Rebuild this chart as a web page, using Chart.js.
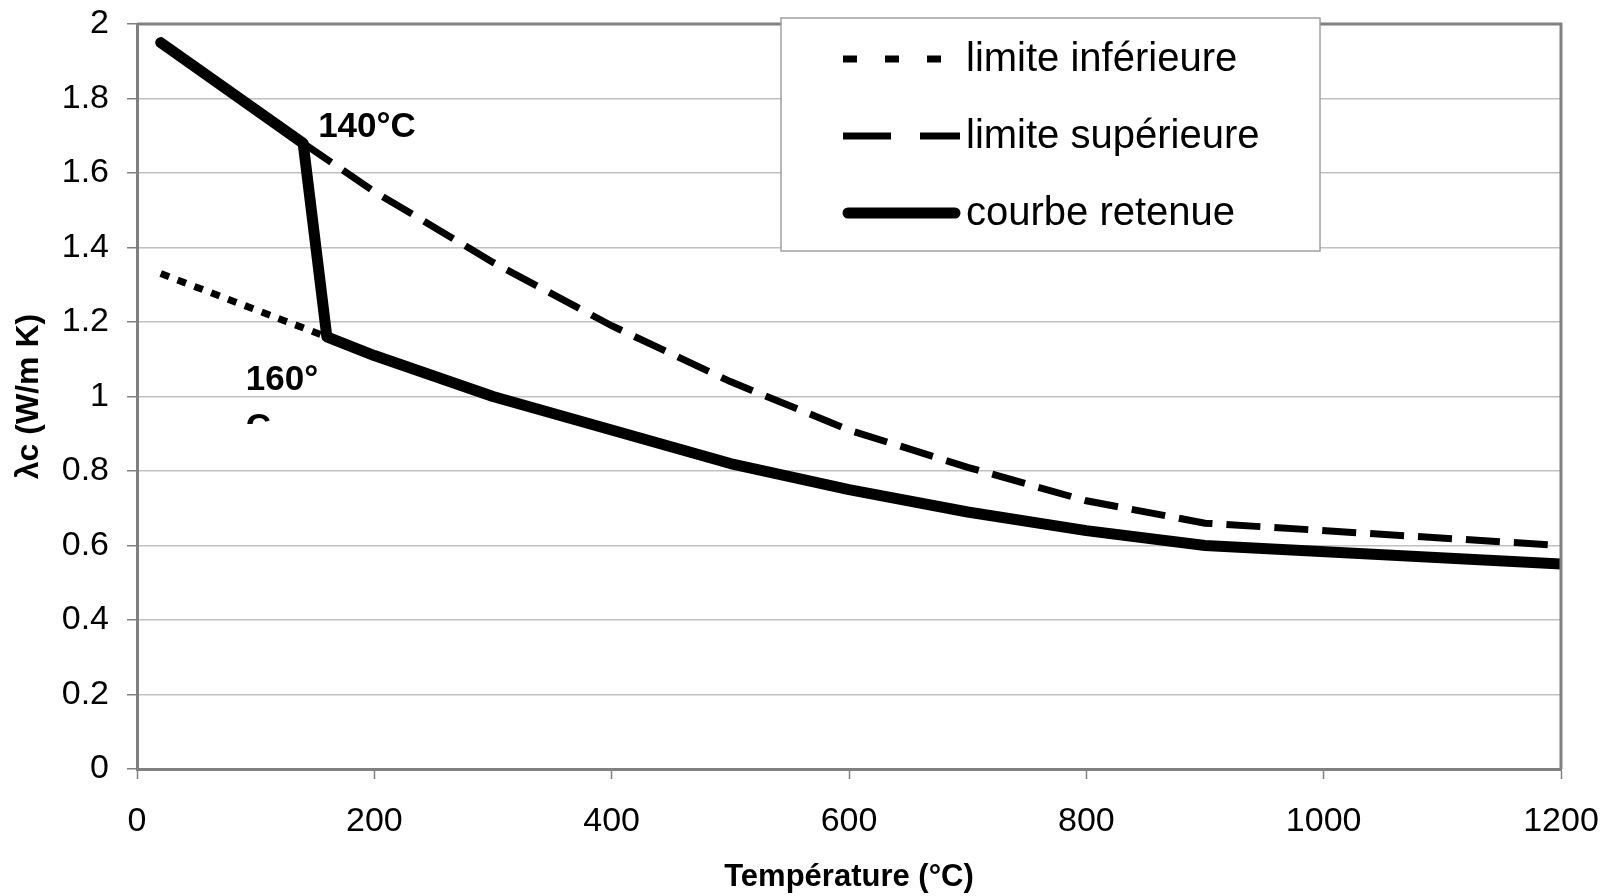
<!DOCTYPE html>
<html>
<head>
<meta charset="utf-8">
<script src="https://cdn.jsdelivr.net/npm/chart.js@4.4.0/dist/chart.umd.min.js"></script>
<style>
  html, body { margin: 0; padding: 0; background: #ffffff; }
  #wrap { width: 1616px; height: 896px; }
</style>
</head>
<body>
<div id="wrap"><canvas id="chartLambda" width="1616" height="896"></canvas></div>
<script>
// données
const tempInf = [20, 160, 200, 300, 400, 500, 600, 700, 800, 900, 1200];
const lambdaInf = [1.33, 1.16, 1.11, 1.00, 0.91, 0.82, 0.75, 0.69, 0.64, 0.60, 0.55];

const tempSup = [140, 200, 300, 400, 500, 600, 700, 800, 900, 1200];
const lambdaSup = [1.68, 1.55, 1.36, 1.19, 1.04, 0.91, 0.81, 0.72, 0.66, 0.60];

const tempRetenue = [20, 140, 160, 200, 300, 400, 500, 600, 700, 800, 900, 1200];
const lambdaRetenue = [1.95, 1.68, 1.16, 1.11, 1.00, 0.91, 0.82, 0.75, 0.69, 0.64, 0.60, 0.55];

const seriesNames = ['limite inférieure', 'limite supérieure', 'courbe retenue'];
const xTickLabels = ['0', '200', '400', '600', '800', '1000', '1200'];
const yTickLabels = ['0', '0.2', '0.4', '0.6', '0.8', '1', '1.2', '1.4', '1.6', '1.8', '2'];

// étiquettes des points de changement
const noteTemps = [140, 160];
const noteLambdas = [1.68, 1.16];

const FONT = '"Liberation Sans", Arial, sans-serif';

function toPoints(xs, ys) {
    return xs.map((x, i) => ({ x: x, y: ys[i] }));
}

// cadre du graphique (haut + droite)
const plotFrame = {
    id: 'plotFrame',
    afterDraw(chart) {
        const { ctx, chartArea: a } = chart;
        ctx.save();
        ctx.strokeStyle = '#808080';
        ctx.lineWidth = 3;
        ctx.beginPath();
        ctx.moveTo(a.left, a.top);
        ctx.lineTo(a.right, a.top);
        ctx.lineTo(a.right, a.bottom);
        ctx.stroke();
        ctx.restore();
    }
};

// annotations 140°C / 160°C
const notes = {
    id: 'notes',
    afterDatasetsDraw(chart) {
        const { ctx, scales } = chart;
        const x1 = scales.x.getPixelForValue(noteTemps[0]);
        const y1 = scales.y.getPixelForValue(noteLambdas[0]);
        const x2 = scales.x.getPixelForValue(noteTemps[1]);
        const y2 = scales.y.getPixelForValue(noteLambdas[1]);
        ctx.save();
        ctx.fillStyle = '#000';
        ctx.font = 'bold 35px ' + FONT;
        ctx.textAlign = 'left';
        ctx.textBaseline = 'alphabetic';
        ctx.fillText('140°C', x1 + 15, y1 - 6);
        ctx.fillText('160°', x2 - 81, y2 + 53);
        // le "C" coupé sous 160°
        ctx.beginPath();
        ctx.rect(x2 - 90, y2 + 60, 60, 27);
        ctx.clip();
        ctx.fillText('C', x2 - 81, y2 + 101);
        ctx.restore();
    }
};

// légende encadrée dans la zone de tracé
const boxLegend = {
    id: 'boxLegend',
    afterDraw(chart) {
        const { ctx } = chart;
        const bx = 781, by = 18, bw = 539, bh = 233;
        ctx.save();
        ctx.fillStyle = '#ffffff';
        ctx.fillRect(bx, by, bw, bh);
        ctx.strokeStyle = '#a0a0a0';
        ctx.lineWidth = 1.5;
        ctx.strokeRect(bx, by, bw, bh);

        const rows = [59, 136, 213];
        const samples = [
            { dash: [14, 28], width: 7, cap: 'butt' },
            { dash: [48, 29], width: 7, cap: 'butt' },
            { dash: [], width: 11, cap: 'round' }
        ];
        rows.forEach((y, i) => {
            const s = samples[i];
            ctx.strokeStyle = '#000';
            ctx.lineWidth = s.width;
            ctx.lineCap = s.cap;
            ctx.setLineDash(s.dash);
            ctx.beginPath();
            ctx.moveTo(i === 2 ? 848 : 843, y);
            ctx.lineTo(i === 2 ? 955 : 960, y);
            ctx.stroke();
            ctx.setLineDash([]);
            ctx.fillStyle = '#000';
            ctx.font = '40px ' + FONT;
            ctx.textBaseline = 'middle';
            ctx.textAlign = 'left';
            ctx.fillText(seriesNames[i], 966, y + 1);
        });
        ctx.restore();
    }
};

new Chart(document.getElementById('chartLambda'), {
    type: 'line',
    data: {
        datasets: [
            {
                label: seriesNames[2],
                data: toPoints(tempRetenue, lambdaRetenue),
                borderColor: '#000',
                borderWidth: 11,
                borderJoinStyle: 'round',
                borderCapStyle: 'round',
                pointRadius: 0,
                fill: false,
                order: 0
            },
            {
                label: seriesNames[1],
                data: toPoints(tempSup, lambdaSup),
                borderColor: '#000',
                borderWidth: 7,
                borderDash: [34, 14],
                pointRadius: 0,
                fill: false,
                order: 1
            },
            {
                label: seriesNames[0],
                data: toPoints(tempInf, lambdaInf),
                borderColor: '#000',
                borderWidth: 7,
                borderDash: [9, 9],
                pointRadius: 0,
                fill: false,
                order: 2
            }
        ]
    },
    options: {
        responsive: false,
        animation: false,
        devicePixelRatio: 1,
        layout: { padding: { top: 24, right: 55, left: 0, bottom: 0 } },
        plugins: {
            legend: { display: false },
            tooltip: { enabled: false }
        },
        scales: {
            x: {
                type: 'linear',
                min: 0,
                max: 1200,
                afterFit: (s) => {
                    s.height = 127;
                    s.paddingLeft = 0;
                    s.paddingRight = 0;
                },
                afterBuildTicks: (s) => {
                    s.ticks = xTickLabels.map(t => ({ value: Number(t) }));
                },
                ticks: {
                    color: '#000',
                    font: { family: FONT, size: 34 },
                    padding: 22,
                    maxRotation: 0,
                    autoSkip: false,
                    callback: (v, i) => xTickLabels[i]
                },
                grid: {
                    drawOnChartArea: false,
                    drawTicks: true,
                    tickLength: 10,
                    tickColor: '#808080',
                    tickWidth: 1.5
                },
                border: { color: '#808080', width: 3 },
                title: {
                    display: true,
                    text: 'Température (°C)',
                    color: '#000',
                    font: { family: FONT, size: 31, weight: 'bold' },
                    padding: { top: 0, bottom: 0 }
                }
            },
            y: {
                type: 'linear',
                min: 0,
                max: 2,
                afterFit: (s) => {
                    s.width = 137;
                    s.paddingTop = 0;
                    s.paddingBottom = 0;
                },
                afterBuildTicks: (s) => {
                    s.ticks = yTickLabels.map(t => ({ value: Number(t) }));
                },
                ticks: {
                    color: '#000',
                    font: { family: FONT, size: 34 },
                    padding: 18,
                    autoSkip: false,
                    callback: (v, i) => yTickLabels[i]
                },
                grid: {
                    color: '#c0c0c0',
                    lineWidth: 1.5,
                    drawTicks: true,
                    tickLength: 10,
                    tickColor: '#808080',
                    tickWidth: 1.5
                },
                border: { color: '#808080', width: 3 },
                title: {
                    display: true,
                    text: 'λc (W/m K)',
                    color: '#000',
                    font: { family: FONT, size: 32, weight: 'bold' },
                    padding: { top: 10, bottom: 0 }
                }
            }
        }
    },
    plugins: [plotFrame, notes, boxLegend]
});
</script>
</body>
</html>
